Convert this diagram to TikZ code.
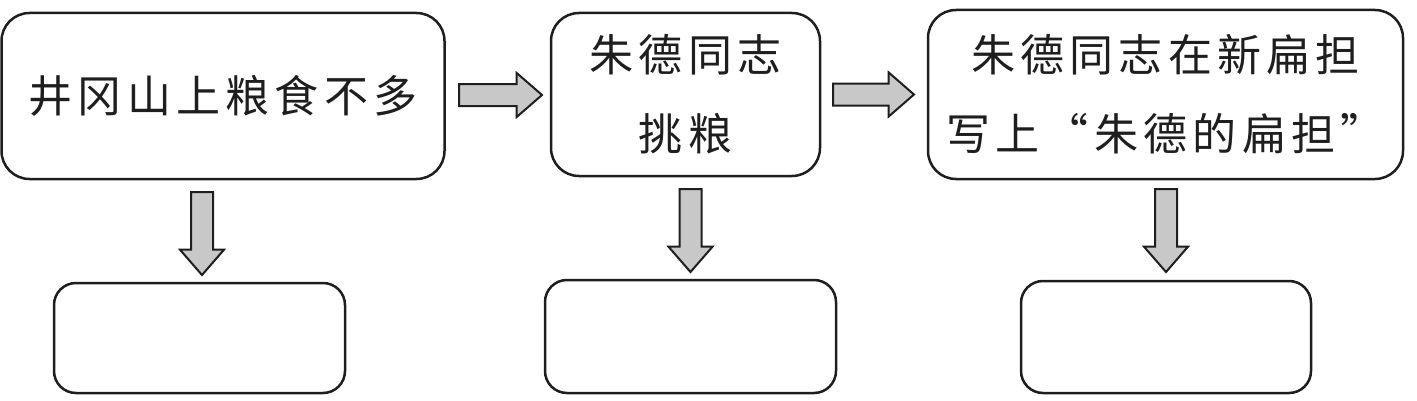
\documentclass[tikz,border=0pt]{standalone}
\usepackage{fontspec}
\newfontfamily\cjk[LetterSpace=12]{Noto Sans CJK SC}
\usetikzlibrary{shapes.arrows,calc}
\definecolor{ink}{HTML}{1E1E1E}
\definecolor{arrfill}{HTML}{C8C8C8}
\tikzset{
 box/.style={draw=ink, line width=2.5pt, rounded corners=28pt, inner sep=0pt, outer sep=0pt, text=ink, align=center, font=\cjk\fontsize{44}{79}\selectfont},
 smallbox/.style={box, rounded corners=22pt},
 blockarr/.style={single arrow, draw=ink, fill=arrfill, line width=2pt, minimum height=83pt, minimum width=0pt, single arrow head extend=11pt, single arrow tip angle=82, inner sep=10pt, outer sep=0pt},
 rarr/.style={blockarr},
 darr/.style={blockarr, shape border rotate=270},
}
\begin{document}
\begin{tikzpicture}[x=1pt,y=1pt]
\useasboundingbox (0,0) rectangle (1417,400);
\node[box, minimum width=443pt, minimum height=166pt] (b1) at (223,304) {井冈山上粮食不多};
\node[box, minimum width=269pt, minimum height=163pt] (b2) at (685.5,305.5) {朱德同志\\挑粮};
\node[box, minimum width=475pt, minimum height=169pt] (b3) at (1165.5,305.5) {朱德同志在新扁担\\写上“朱德的扁担”};
\node[smallbox, minimum width=291pt, minimum height=110pt] (b4) at (199.5,62) {};
\node[smallbox, minimum width=291pt, minimum height=113pt] (b5) at (690.5,63.5) {};
\node[smallbox, minimum width=290pt, minimum height=112pt] (b6) at (1166,63) {};
\node[rarr, anchor=tail] (r1) at ($(b1.east)+(14.5,1)$) {};
\node[rarr, anchor=tail, minimum height=81pt] (r2) at ($(b2.east)+(13,0)$) {};
\node[darr, anchor=tip] (d1) at ($(b4.north)+(2.5,8)$) {};
\node[darr, anchor=tip] (d2) at ($(b5.north)+(0,8)$) {};
\node[darr, anchor=tip] (d3) at ($(b6.north)+(0,9)$) {};
\end{tikzpicture}
\end{document}
